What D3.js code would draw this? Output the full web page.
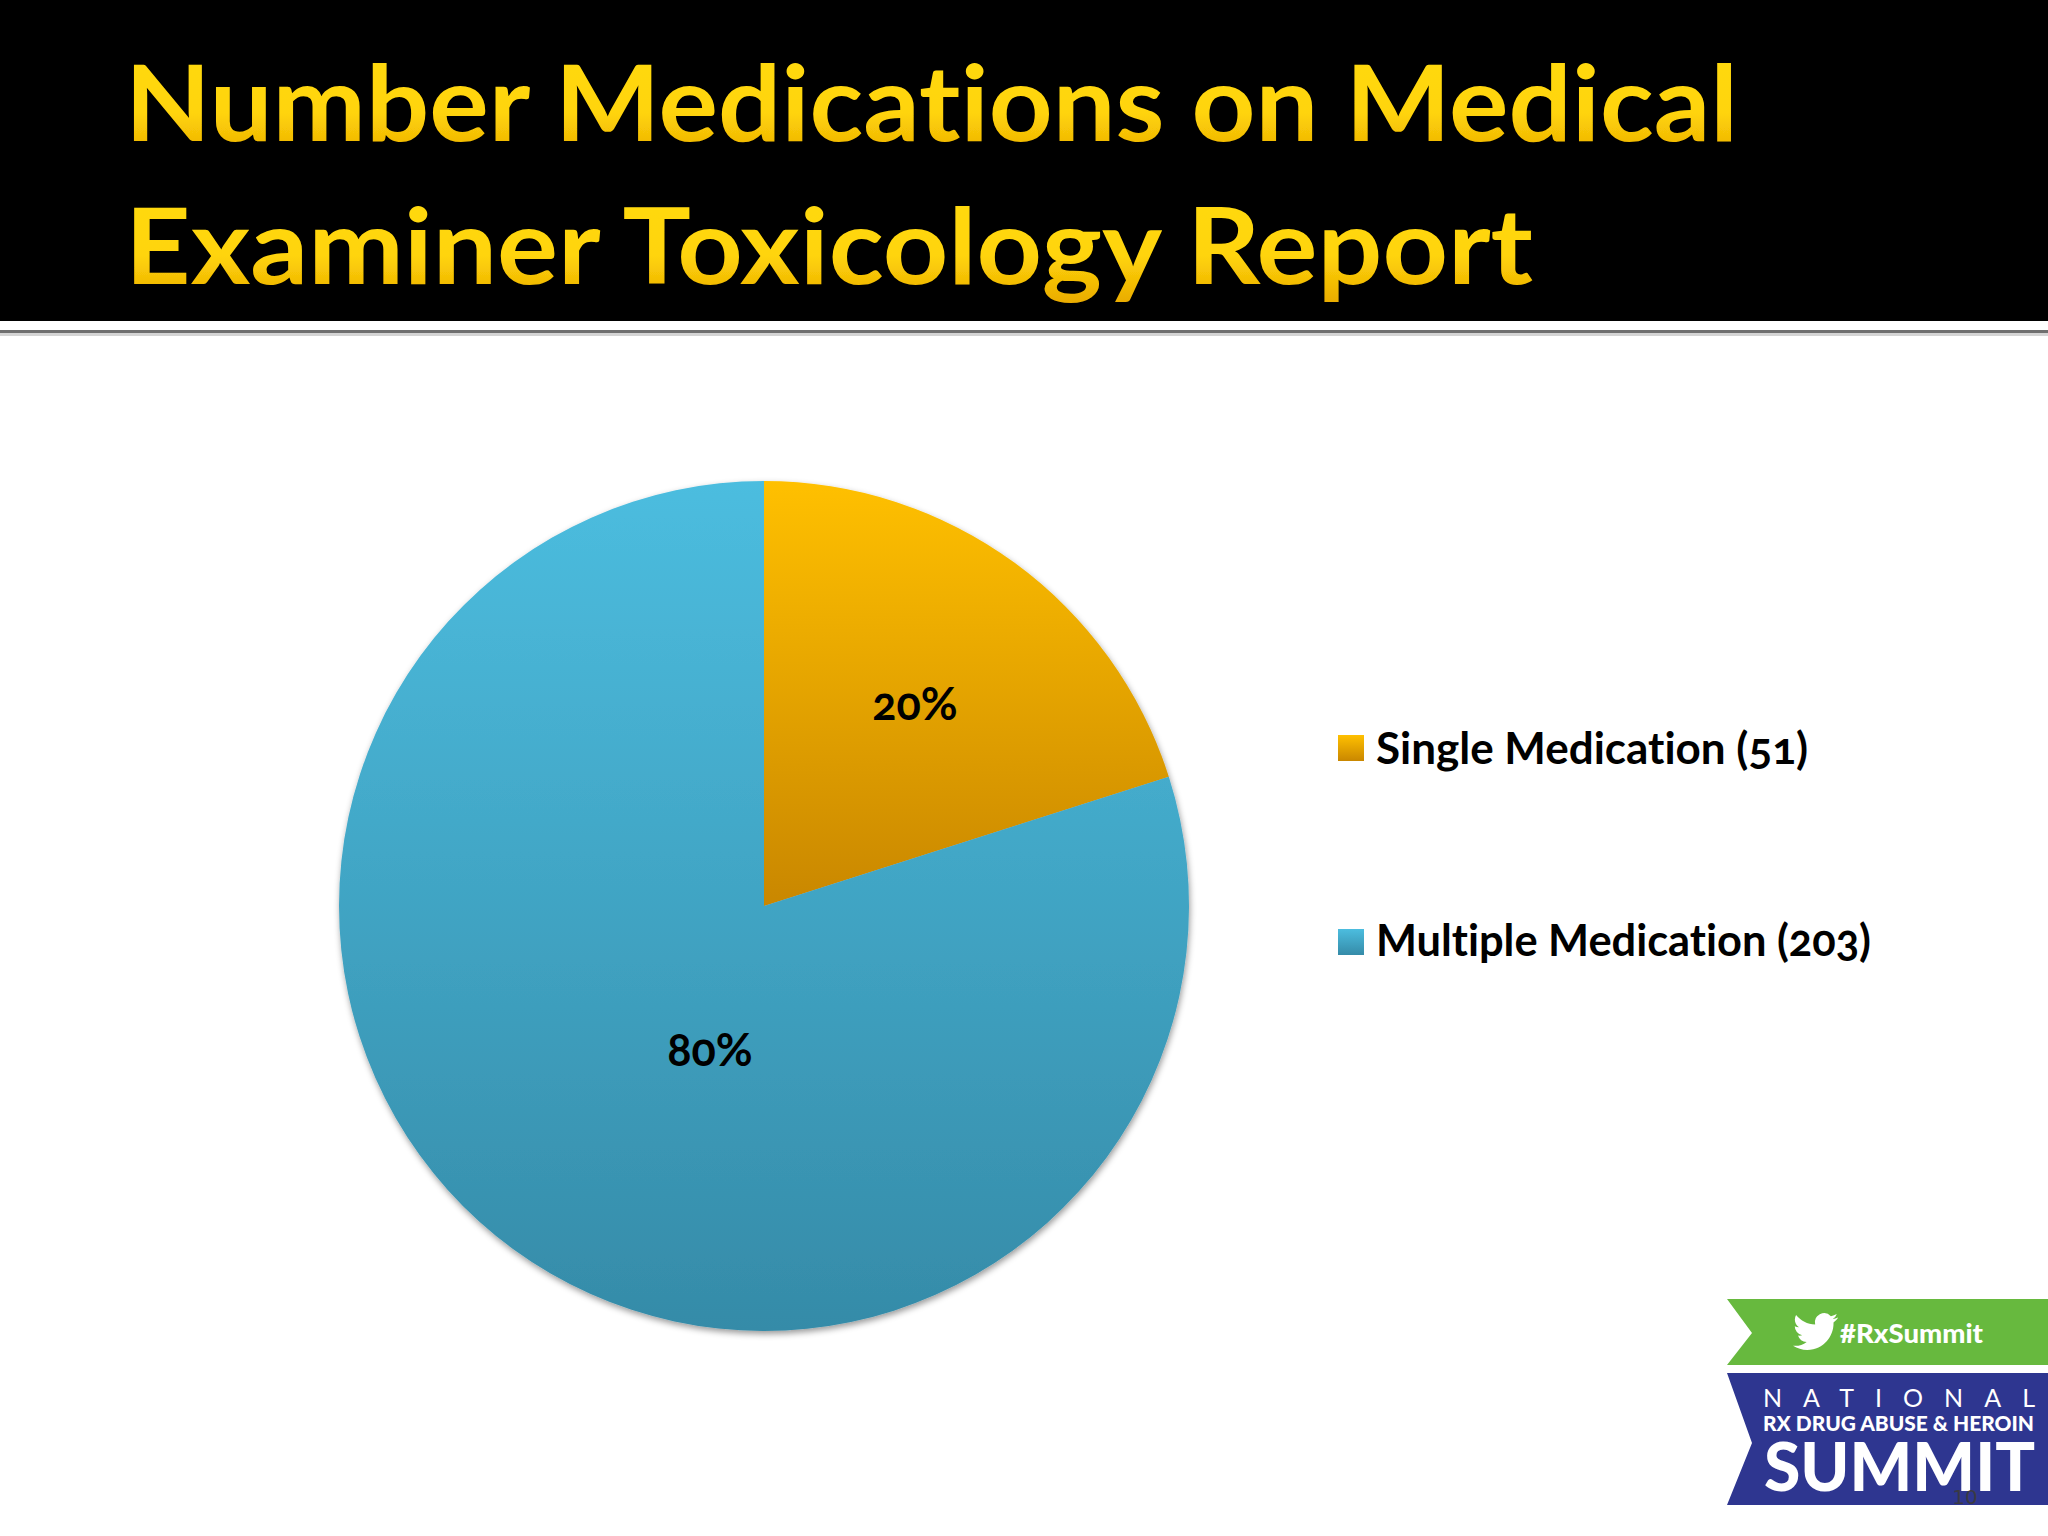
<!DOCTYPE html>
<html><head><meta charset="utf-8">
<script src="https://cdn.jsdelivr.net/npm/d3@7"></script>
<style>
html,body{margin:0;padding:0;background:#fff}
svg{display:block}
text{font-family:Lato,"Open Sans",sans-serif;font-variant-ligatures:none}
</style></head><body><svg id="c" width="2048" height="1536"></svg>
<script>
const titleLines = ["Number Medications on Medical", "Examiner Toxicology Report"];
const categories = ["Single Medication", "Multiple Medication"];
const counts = [51, 203];
const percentLabels = ["20%", "80%"];
const gradientStops = [["#FFC000", "#C98700"], ["#4CBDDF", "#358BA8"]];

const svg = d3.select("#c");
const defs = svg.append("defs");
const cx = 764, cy = 906, R = 425;

// shadow
const shadow = defs.append("filter").attr("id", "sh").attr("x", "-5%").attr("y", "-5%").attr("width", "110%").attr("height", "110%");
shadow.append("feDropShadow").attr("dx", 1).attr("dy", 3).attr("stdDeviation", 3).attr("flood-color", "#000").attr("flood-opacity", 0.4);
const blur = defs.append("filter").attr("id", "soft");
blur.append("feGaussianBlur").attr("stdDeviation", 0.7);

// gradients: coordinates are relative to the pie centre, where the slices are drawn
categories.forEach((c, i) => {
  const g = defs.append("linearGradient").attr("id", "pie" + i).attr("gradientUnits", "userSpaceOnUse")
    .attr("x1", 0).attr("x2", 0)
    .attr("y1", -R).attr("y2", i === 0 ? 0 : R);
  g.append("stop").attr("offset", 0).attr("stop-color", gradientStops[i][0]);
  g.append("stop").attr("offset", 1).attr("stop-color", gradientStops[i][1]);
  const k = defs.append("linearGradient").attr("id", "key" + i).attr("x1", 0).attr("x2", 0).attr("y1", 0).attr("y2", 1);
  k.append("stop").attr("offset", 0).attr("stop-color", gradientStops[i][0]);
  k.append("stop").attr("offset", 1).attr("stop-color", gradientStops[i][1]);
});
const tg = defs.append("linearGradient").attr("id", "tg").attr("x1", 0).attr("x2", 0).attr("y1", 0).attr("y2", 1);
tg.append("stop").attr("offset", 0).attr("stop-color", "#FFDB14");
tg.append("stop").attr("offset", 0.6).attr("stop-color", "#FFD40A");
tg.append("stop").attr("offset", 1).attr("stop-color", "#E8A800");

// banner
svg.append("rect").attr("x", 0).attr("y", 0).attr("width", 2048).attr("height", 321).attr("fill", "#000");
svg.append("rect").attr("x", 0).attr("y", 330).attr("width", 2048).attr("height", 3).attr("fill", "#6f6f6f");
svg.append("rect").attr("x", 0).attr("y", 333).attr("width", 2048).attr("height", 3).attr("fill", "#d4d4d4");

const titleBase = [141, 284], titleLen = [1613, 1408];
svg.selectAll("text.t").data(titleLines).join("text").attr("class", "t")
  .attr("x", 125).attr("y", (d, i) => titleBase[i])
  .attr("font-size", 106).attr("font-weight", 700)
  .attr("textLength", (d, i) => titleLen[i]).attr("lengthAdjust", "spacingAndGlyphs")
  .attr("fill", "url(#tg)").attr("filter", "url(#soft)")
  .text(d => d);

// pie
const pie = d3.pie().sort(null)(counts);
const arc = d3.arc().innerRadius(0).outerRadius(R);
const gp = svg.append("g").attr("filter", "url(#sh)");
gp.selectAll("path").data(pie).join("path")
  .attr("transform", `translate(${cx},${cy})`)
  .attr("d", arc).attr("fill", (d, i) => `url(#pie${i})`);

const labelPos = [[915, 720], [710, 1066]];
svg.selectAll("text.p").data(percentLabels).join("text").attr("class", "p")
  .attr("x", (d, i) => labelPos[i][0]).attr("y", (d, i) => labelPos[i][1])
  .attr("text-anchor", "middle").attr("font-size", 45).attr("font-weight", 700)
  .style("font-feature-settings", '"onum"').attr("fill", "#000").text(d => d);

// legend
const legendY = d3.scalePoint().domain(categories).range([748, 942]);
const lg = svg.selectAll("g.l").data(categories).join("g").attr("class", "l")
  .attr("transform", d => `translate(0,${legendY(d)})`);
lg.append("rect").attr("x", 1338).attr("y", -13).attr("width", 26).attr("height", 26).attr("fill", (d, i) => `url(#key${i})`);
const legLen = [432, 495], legBase = [16, 14];
lg.append("text").attr("x", 1376).attr("y", (d, i) => legBase[i]).attr("font-size", 44).attr("font-weight", 700)
  .style("font-feature-settings", '"onum"')
  .attr("textLength", (d, i) => legLen[i]).attr("lengthAdjust", "spacingAndGlyphs")
  .attr("fill", "#000").text((d, i) => `${d} (${counts[i]})`);

// logo
const line = d3.line();
svg.append("path").attr("fill", "#67B93E").attr("d", line([[1727,1299],[2048,1299],[2048,1365],[1727,1365],[1752,1333]]) + "Z");
svg.append("path").attr("fill", "#2E3690").attr("d", line([[1727,1373],[2048,1373],[2048,1505],[1727,1505],[1752,1443]]) + "Z");
svg.append("path").attr("fill", "#fff")
  .attr("transform", "translate(1793,1309) scale(1.88)")
  .attr("d", "M23.953 4.57a10 10 0 01-2.825.775 4.958 4.958 0 002.163-2.723c-.951.555-2.005.959-3.127 1.184a4.92 4.92 0 00-8.384 4.482C7.69 8.095 4.067 6.13 1.64 3.162a4.822 4.822 0 00-.666 2.475c0 1.71.87 3.213 2.188 4.096a4.904 4.904 0 01-2.228-.616v.06a4.923 4.923 0 003.946 4.827 4.996 4.996 0 01-2.212.085 4.936 4.936 0 004.604 3.417 9.867 9.867 0 01-6.102 2.105c-.39 0-.779-.023-1.17-.067a13.995 13.995 0 007.557 2.209c9.053 0 13.998-7.496 13.998-13.985 0-.21 0-.42-.015-.63A9.935 9.935 0 0024 4.59z");
svg.append("text").attr("x", 1840).attr("y", 1343).attr("font-size", 26).attr("font-weight", 900)
  .attr("textLength", 143).attr("lengthAdjust", "spacingAndGlyphs").attr("fill", "#fff").text("#RxSummit");
svg.append("text").attr("x", 1763).attr("y", 1407).attr("font-size", 25).attr("font-weight", 400)
  .attr("textLength", 272).attr("lengthAdjust", "spacing").attr("fill", "#fff").text("NATIONAL");
svg.append("text").attr("x", 1763).attr("y", 1431).attr("font-size", 21).attr("font-weight", 900)
  .attr("textLength", 271).attr("lengthAdjust", "spacingAndGlyphs").attr("fill", "#fff").text("RX DRUG ABUSE & HEROIN");
svg.append("text").attr("x", 1764).attr("y", 1491).attr("font-size", 67).attr("font-weight", 900)
  .attr("textLength", 271).attr("lengthAdjust", "spacingAndGlyphs").attr("fill", "#fff").text("SUMMIT");
svg.append("text").attr("x", 1965).attr("y", 1504).attr("text-anchor", "middle").attr("font-size", 20)
  .style("font-family", "'DejaVu Sans'").attr("fill", "#3a3a44").text("10");
</script></body></html>
